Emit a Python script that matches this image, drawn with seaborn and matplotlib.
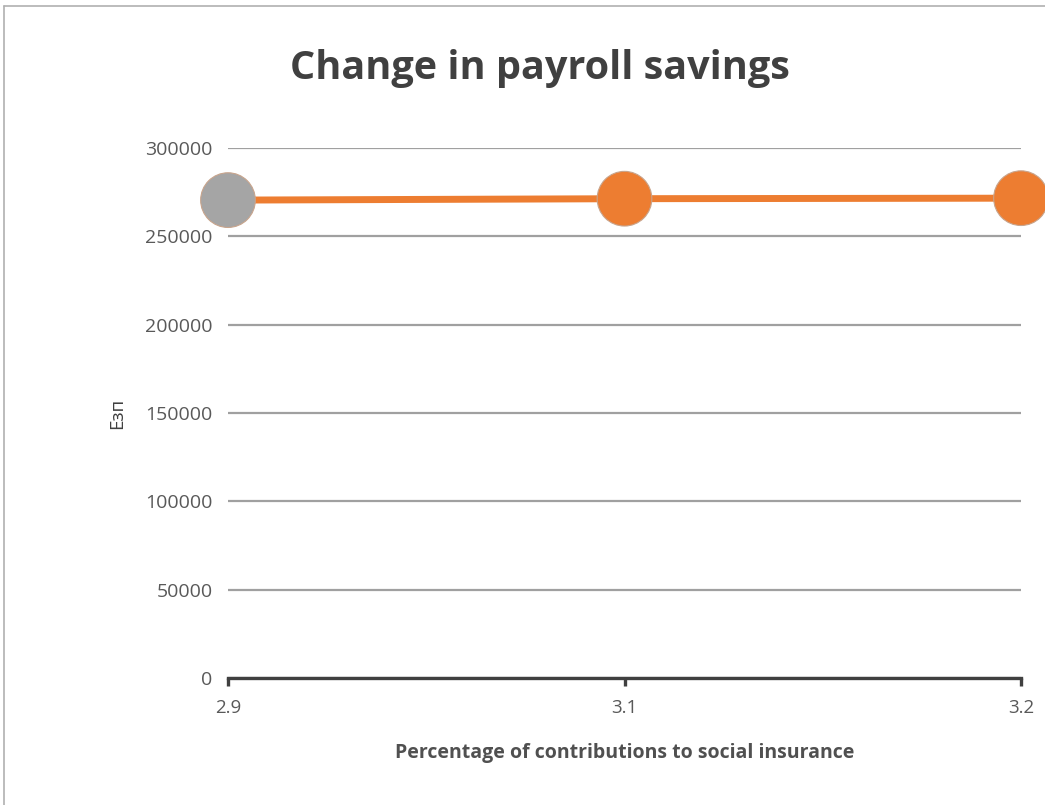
import matplotlib
matplotlib.use("Agg")
import matplotlib.pyplot as plt
import seaborn as sns
import pandas as pd
from matplotlib.lines import Line2D

# Data
pct_labels = ["2.9", "3.1", "3.2"]
ezn_values = [270500, 271300, 271600]
groups = ["base", "new", "new"]

title = "Change in payroll savings"
x_title = "Percentage of contributions to social insurance"
y_title = "Езп"
y_ticks = [0, 50000, 100000, 150000, 200000, 250000, 300000]

df = pd.DataFrame({"pct": pct_labels, "ezn": ezn_values, "grp": groups})

sns.set_theme(style="white")
plt.rcParams["font.family"] = ["Open Sans", "DejaVu Sans"]

W, H = 1045, 805
fig = plt.figure(figsize=(W / 100, H / 100), dpi=100)
ax = fig.add_axes([228 / W, 1 - 678 / H, (1021 - 228) / W, (678 - 148) / H])

ORANGE = "#ed7d31"
GREY = "#a5a5a5"

sns.lineplot(data=df, x="pct", y="ezn", color=ORANGE, linewidth=5, ax=ax,
             sort=False, zorder=3)
sns.scatterplot(data=df, x="pct", y="ezn", hue="grp",
                palette={"base": GREY, "new": ORANGE}, s=1550,
                edgecolor="#c8a48c", linewidth=0.8, legend=False, ax=ax,
                clip_on=False, zorder=4)

ax.set_xlim(0, 2)
ax.set_ylim(0, 300000)
ax.set_yticks(y_ticks)
ax.set_yticklabels([str(v) for v in y_ticks])
ax.yaxis.grid(True, color="#a0a0a0", linewidth=1.6)
ax.set_axisbelow(True)

for s in ["top", "right", "left"]:
    ax.spines[s].set_visible(False)
ax.spines["bottom"].set_color("#404040")
ax.spines["bottom"].set_linewidth(2.4)
ax.spines["bottom"].set_zorder(2)

ax.tick_params(axis="x", which="major", bottom=True, direction="out",
               length=6, width=2.4, color="#404040", labelsize=13.5,
               labelcolor="#595959", pad=9)
ax.tick_params(axis="y", which="major", left=False, length=0, labelsize=14,
               labelcolor="#595959", pad=11)

ax.set_xlabel(x_title, fontsize=14, fontweight="bold", color="#505050",
              labelpad=19)
ax.set_ylabel(y_title, fontsize=13.5, color="#404040", labelpad=14)

fig.text(540 / W, 1 - 69 / H, title, ha="center", va="center", fontsize=28.5,
         fontweight="bold", color="#404040")

# Chart border (top and left visible)
fig.add_artist(Line2D([4 / W, 1.0], [1 - 6 / H, 1 - 6 / H], color="#b0b0b0",
                      linewidth=1.2, transform=fig.transFigure))
fig.add_artist(Line2D([4 / W, 4 / W], [0.0, 1 - 6 / H], color="#b0b0b0",
                      linewidth=1.2, transform=fig.transFigure))

fig.savefig("out.png", dpi=100)
